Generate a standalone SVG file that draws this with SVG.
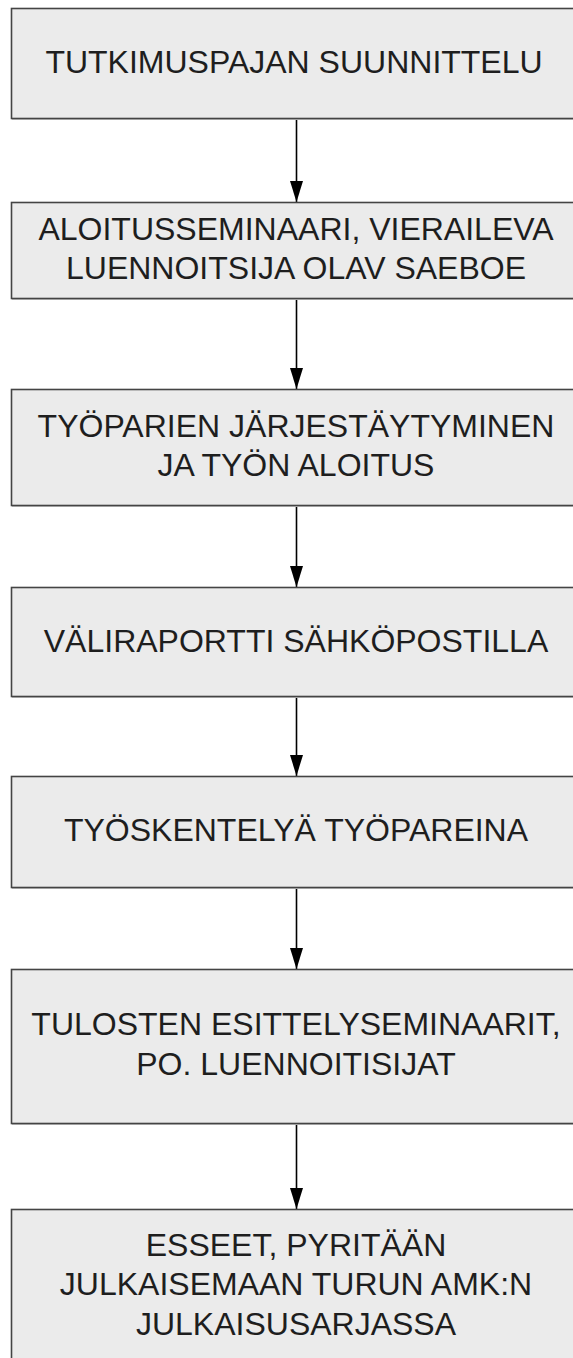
<svg xmlns="http://www.w3.org/2000/svg" width="573" height="1358" viewBox="0 0 573 1358">
  <style>
    .box { fill: #ebebeb; stroke: #444444; stroke-width: 1.6; }
    .shadow { fill: none; stroke: #c8c8c8; stroke-width: 1.2; }
    .label { font-family: "Liberation Sans", Arial, sans-serif; font-size: 32px; fill: #1e1e1e; text-anchor: middle; }
    .link { stroke: #000000; stroke-width: 1.6; fill: none; marker-end: url(#head); }
  </style>
  <defs>
    <!-- arrowhead drawn along +x, rotated by orient="auto" to follow each connector -->
    <marker id="head" markerUnits="userSpaceOnUse" markerWidth="21" markerHeight="13" refX="21" refY="6.5" orient="auto" viewBox="0 0 21 13">
      <path d="M0,0 L21,6.5 L0,13 Z" fill="#000000"/>
    </marker>
  </defs>
  <rect width="573" height="1358" fill="#ffffff"/>

  <!-- connectors -->
  <g id="connectors">
    <line class="link" x1="296.5" y1="118" x2="296.5" y2="202"/>
    <line class="link" x1="296.5" y1="298" x2="296.5" y2="389"/>
    <line class="link" x1="296.5" y1="505" x2="296.5" y2="587"/>
    <line class="link" x1="296.5" y1="696" x2="296.5" y2="776"/>
    <line class="link" x1="296.5" y1="887" x2="296.5" y2="969"/>
    <line class="link" x1="296.5" y1="1123" x2="296.5" y2="1209"/>
  </g>

  <g id="step1">
    <line class="shadow" x1="12" y1="119.5" x2="582" y2="119.5"/>
    <rect class="box" x="11.5" y="8.5" width="570" height="110"/>
    <text class="label" x="294" y="72.5">TUTKIMUSPAJAN SUUNNITTELU</text>
  </g>

  <g id="step2">
    <line class="shadow" x1="12" y1="299.5" x2="582" y2="299.5"/>
    <rect class="box" x="11.5" y="202.5" width="570" height="96"/>
    <text class="label" x="296" y="239.5">ALOITUSSEMINAARI, VIERAILEVA</text>
    <text class="label" x="296" y="278.5">LUENNOITSIJA OLAV SAEBOE</text>
  </g>

  <g id="step3">
    <line class="shadow" x1="12" y1="506.5" x2="582" y2="506.5"/>
    <rect class="box" x="11.5" y="389.5" width="570" height="116"/>
    <text class="label" x="296" y="437">TYÖPARIEN JÄRJESTÄYTYMINEN</text>
    <text class="label" x="296" y="476">JA TYÖN ALOITUS</text>
  </g>

  <g id="step4">
    <line class="shadow" x1="12" y1="697.5" x2="582" y2="697.5"/>
    <rect class="box" x="11.5" y="587.5" width="570" height="109"/>
    <text class="label" x="296" y="651.5">VÄLIRAPORTTI SÄHKÖPOSTILLA</text>
  </g>

  <g id="step5">
    <line class="shadow" x1="12" y1="888.5" x2="582" y2="888.5"/>
    <rect class="box" x="11.5" y="776.5" width="570" height="111"/>
    <text class="label" x="296" y="840.5">TYÖSKENTELYÄ TYÖPAREINA</text>
  </g>

  <g id="step6">
    <line class="shadow" x1="12" y1="1124.5" x2="582" y2="1124.5"/>
    <rect class="box" x="11.5" y="969.5" width="570" height="154"/>
    <text class="label" x="296" y="1035">TULOSTEN ESITTELYSEMINAARIT,</text>
    <text class="label" x="296" y="1074.5">PO. LUENNOITISIJAT</text>
  </g>

  <g id="step7">
    <rect class="box" x="11.5" y="1209.5" width="570" height="180"/>
    <text class="label" x="296" y="1256">ESSEET, PYRITÄÄN</text>
    <text class="label" x="296" y="1295">JULKAISEMAAN TURUN AMK:N</text>
    <text class="label" x="296" y="1334.5">JULKAISUSARJASSA</text>
  </g>
</svg>
